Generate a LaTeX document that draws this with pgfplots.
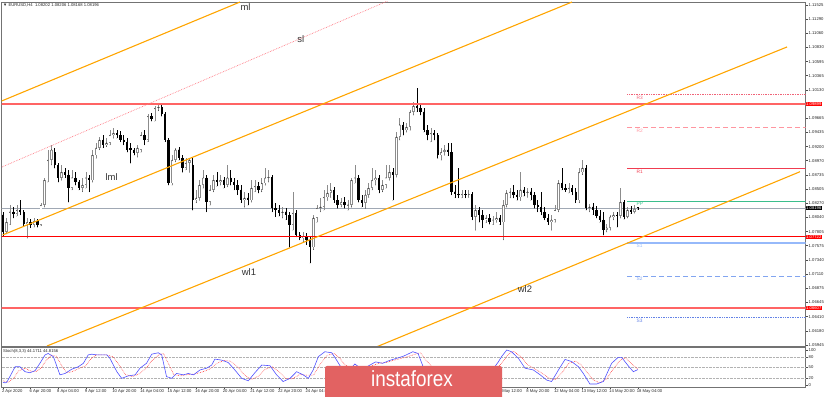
\documentclass[border=0pt]{standalone}
\usepackage{fontspec}
\setmainfont{Liberation Sans}
\usepackage{graphicx}
\usepackage{pgfplots}
\usepackage{pgfplotstable}
\pgfplotsset{compat=1.18}

\definecolor{orng}{RGB}{255,165,0}
\definecolor{lred}{RGB}{255,100,100}
\definecolor{pinkdot}{RGB}{255,120,130}
\definecolor{r3col}{RGB}{240,100,120}
\definecolor{r2col}{RGB}{255,150,160}
\definecolor{r1col}{RGB}{240,60,80}
\definecolor{ppcol}{RGB}{60,190,140}
\definecolor{s1col}{RGB}{150,185,250}
\definecolor{s2col}{RGB}{130,165,240}
\definecolor{s3col}{RGB}{100,130,230}
\definecolor{curcol}{RGB}{160,168,180}
\definecolor{bullcol}{RGB}{140,140,140}
\definecolor{logocol}{RGB}{226,98,98}
\definecolor{stblue}{RGB}{80,80,255}
\definecolor{stred}{RGB}{255,60,60}

\newcommand\tinyf{\fontsize{4.2}{4.6}\selectfont}
\newcommand\pivf{\fontsize{4.8}{5.2}\selectfont}
\newcommand\lblf{\fontsize{9.5}{10}\selectfont}

\pgfplotsset{invis/.style={only marks, mark=*, mark size=0.01pt, mark options={draw=none, fill=none}}}

\pgfplotstableread{
x o h l c
0 1.0808 1.0813 1.0773 1.0780
1 1.0780 1.0803 1.0777 1.0796
2 1.0796 1.0824 1.0792 1.0813
3 1.0813 1.0821 1.0803 1.0810
4 1.0810 1.0824 1.0806 1.0816
5 1.0816 1.0832 1.0808 1.0813
6 1.0813 1.0816 1.0790 1.0793
7 1.0793 1.0803 1.0770 1.0796
8 1.0796 1.0801 1.0787 1.0792
9 1.0792 1.0803 1.0788 1.0798
10 1.0798 1.0801 1.0788 1.0792
11 1.0792 1.0828 1.0790 1.0824
12 1.0824 1.0869 1.0821 1.0865
13 1.0865 1.0915 1.0862 1.0898
14 1.0898 1.0923 1.0890 1.0915
15 1.0911 1.0918 1.0885 1.0890
16 1.0890 1.0893 1.0862 1.0869
17 1.0869 1.0890 1.0865 1.0878
18 1.0878 1.0885 1.0869 1.0874
19 1.0874 1.0882 1.0829 1.0852
20 1.0852 1.0882 1.0849 1.0869
21 1.0869 1.0878 1.0857 1.0862
22 1.0862 1.0865 1.0849 1.0852
23 1.0852 1.0869 1.0846 1.0857
24 1.0857 1.0878 1.0852 1.0869
25 1.0869 1.0874 1.0846 1.0865
26 1.0865 1.0915 1.0862 1.0906
27 1.0906 1.0926 1.0901 1.0918
28 1.0918 1.0936 1.0915 1.0931
29 1.0931 1.0939 1.0918 1.0923
30 1.0923 1.0934 1.0920 1.0926
31 1.0926 1.0947 1.0923 1.0939
32 1.0939 1.0951 1.0934 1.0942
33 1.0942 1.0947 1.0934 1.0939
34 1.0939 1.0946 1.0928 1.0931
35 1.0931 1.0939 1.0923 1.0928
36 1.0928 1.0934 1.0911 1.0915
37 1.0918 1.0926 1.0893 1.0915
38 1.0915 1.0918 1.0906 1.0910
39 1.0910 1.0923 1.0903 1.0918
40 1.0915 1.0944 1.0911 1.0939
41 1.0939 1.0947 1.0923 1.0931
42 1.0931 1.0974 1.0928 1.0970
43 1.0970 1.0975 1.0962 1.0965
44 1.0965 1.0987 1.0962 1.0983
45 1.0983 1.0990 1.0979 1.0985
46 1.0985 1.0988 1.0970 1.0974
47 1.0974 1.0977 1.0928 1.0931
48 1.0931 1.0934 1.0857 1.0860
49 1.0860 1.0906 1.0857 1.0898
50 1.0898 1.0918 1.0895 1.0915
51 1.0915 1.0920 1.0898 1.0901
52 1.0901 1.0906 1.0878 1.0885
53 1.0885 1.0901 1.0882 1.0893
54 1.0893 1.0901 1.0878 1.0898
55 1.0890 1.0901 1.0816 1.0832
56 1.0832 1.0849 1.0828 1.0836
57 1.0836 1.0865 1.0832 1.0857
58 1.0857 1.0882 1.0852 1.0869
59 1.0869 1.0874 1.0813 1.0829
60 1.0829 1.0857 1.0824 1.0849
61 1.0849 1.0874 1.0846 1.0865
62 1.0865 1.0878 1.0855 1.0862
63 1.0862 1.0874 1.0857 1.0865
64 1.0865 1.0870 1.0852 1.0857
65 1.0857 1.0890 1.0854 1.0869
66 1.0869 1.0882 1.0857 1.0862
67 1.0862 1.0869 1.0849 1.0857
68 1.0857 1.0865 1.0841 1.0849
69 1.0849 1.0857 1.0828 1.0832
70 1.0832 1.0846 1.0821 1.0836
71 1.0836 1.0844 1.0824 1.0832
72 1.0832 1.0865 1.0829 1.0852
73 1.0852 1.0865 1.0846 1.0855
74 1.0855 1.0862 1.0844 1.0849
75 1.0849 1.0869 1.0846 1.0860
76 1.0860 1.0885 1.0857 1.0869
77 1.0869 1.0882 1.0862 1.0870
78 1.0870 1.0874 1.0813 1.0819
79 1.0819 1.0828 1.0805 1.0816
80 1.0816 1.0824 1.0806 1.0811
81 1.0811 1.0821 1.0803 1.0813
82 1.0813 1.0819 1.0800 1.0808
83 1.0808 1.0813 1.0755 1.0792
84 1.0792 1.0846 1.0783 1.0811
85 1.0811 1.0816 1.0772 1.0775
86 1.0775 1.0780 1.0767 1.0770
87 1.0770 1.0780 1.0764 1.0773
88 1.0773 1.0778 1.0759 1.0767
89 1.0767 1.0772 1.0729 1.0755
90 1.0755 1.0808 1.0751 1.0803
91 1.0803 1.0824 1.0796 1.0819
92 1.0819 1.0836 1.0813 1.0821
93 1.0821 1.0849 1.0816 1.0837
94 1.0837 1.0857 1.0832 1.0844
95 1.0844 1.0860 1.0837 1.0849
96 1.0849 1.0854 1.0828 1.0832
97 1.0832 1.0841 1.0819 1.0824
98 1.0824 1.0836 1.0821 1.0829
99 1.0829 1.0837 1.0819 1.0824
100 1.0824 1.0832 1.0816 1.0825
101 1.0825 1.0869 1.0821 1.0865
102 1.0865 1.0890 1.0860 1.0869
103 1.0869 1.0874 1.0829 1.0832
104 1.0832 1.0841 1.0821 1.0828
105 1.0828 1.0849 1.0819 1.0841
106 1.0841 1.0860 1.0837 1.0852
107 1.0852 1.0885 1.0849 1.0865
108 1.0865 1.0882 1.0857 1.0869
109 1.0869 1.0874 1.0844 1.0849
110 1.0849 1.0865 1.0846 1.0857
111 1.0857 1.0890 1.0852 1.0869
112 1.0869 1.0890 1.0865 1.0878
113 1.0878 1.0885 1.0832 1.0874
114 1.0874 1.0944 1.0870 1.0936
115 1.0936 1.0967 1.0931 1.0956
116 1.0956 1.0961 1.0939 1.0947
117 1.0947 1.0959 1.0944 1.0952
118 1.0952 1.0980 1.0947 1.0977
119 1.0977 1.0993 1.0972 1.0987
120 1.0987 1.1016 1.0977 1.0983
121 1.0983 1.0990 1.0972 1.0977
122 1.0977 1.0983 1.0944 1.0947
123 1.0947 1.0956 1.0931 1.0939
124 1.0939 1.0951 1.0928 1.0942
125 1.0942 1.0947 1.0931 1.0939
126 1.0939 1.0942 1.0901 1.0906
127 1.0906 1.0918 1.0898 1.0911
128 1.0911 1.0923 1.0906 1.0915
129 1.0915 1.0926 1.0905 1.0911
130 1.0911 1.0926 1.0841 1.0846
131 1.0846 1.0857 1.0836 1.0842
132 1.0842 1.0885 1.0836 1.0841
133 1.0841 1.0849 1.0836 1.0842
134 1.0842 1.0849 1.0836 1.0841
135 1.0841 1.0849 1.0837 1.0842
136 1.0842 1.0846 1.0800 1.0805
137 1.0805 1.0824 1.0783 1.0816
138 1.0816 1.0821 1.0796 1.0808
139 1.0808 1.0816 1.0787 1.0800
140 1.0800 1.0808 1.0795 1.0803
141 1.0803 1.0810 1.0793 1.0796
142 1.0796 1.0806 1.0792 1.0800
143 1.0800 1.0813 1.0796 1.0803
144 1.0803 1.0808 1.0792 1.0796
145 1.0796 1.0832 1.0767 1.0824
146 1.0824 1.0849 1.0821 1.0844
147 1.0844 1.0852 1.0836 1.0846
148 1.0846 1.0857 1.0836 1.0841
149 1.0841 1.0849 1.0832 1.0837
150 1.0837 1.0878 1.0832 1.0849
151 1.0849 1.0854 1.0839 1.0844
152 1.0844 1.0852 1.0837 1.0846
153 1.0846 1.0852 1.0832 1.0841
154 1.0841 1.0846 1.0819 1.0824
155 1.0824 1.0832 1.0813 1.0821
156 1.0821 1.0846 1.0808 1.0813
157 1.0813 1.0821 1.0800 1.0803
158 1.0803 1.0810 1.0792 1.0796
159 1.0796 1.0808 1.0783 1.0800
160 1.0800 1.0824 1.0796 1.0816
161 1.0816 1.0865 1.0813 1.0860
162 1.0860 1.0885 1.0849 1.0852
163 1.0852 1.0859 1.0846 1.0849
164 1.0849 1.0860 1.0844 1.0852
165 1.0852 1.0857 1.0841 1.0846
166 1.0846 1.0852 1.0828 1.0832
167 1.0832 1.0885 1.0828 1.0878
168 1.0878 1.0898 1.0874 1.0885
169 1.0885 1.0890 1.0816 1.0819
170 1.0819 1.0826 1.0813 1.0821
171 1.0821 1.0828 1.0808 1.0816
172 1.0816 1.0823 1.0803 1.0806
173 1.0806 1.0816 1.0796 1.0800
174 1.0800 1.0813 1.0775 1.0783
175 1.0783 1.0793 1.0780 1.0787
176 1.0787 1.0808 1.0783 1.0805
177 1.0805 1.0813 1.0800 1.0808
178 1.0808 1.0813 1.0788 1.0806
179 1.0806 1.0852 1.0803 1.0829
180 1.0829 1.0832 1.0801 1.0805
181 1.0805 1.0821 1.0803 1.0816
182 1.0816 1.0823 1.0810 1.0813
183 1.0813 1.0824 1.0811 1.0818
184 1.08202 1.08206 1.08168 1.08196
}\candles

\begin{document}
\begin{tikzpicture}
% ---------------- main price panel ----------------
\begin{axis}[
  at={(1.5bp,51bp)}, anchor=south west,
  width=804bp, height=344bp, scale only axis,
  xmin=-0.435, xmax=232.6, ymin=1.05929, ymax=1.11574,
  clip mode=individual,
  axis line style={black!55, line width=0.7bp},
  xtick=\empty,
  ytick={1.11525,1.11290,1.11060,1.10830,1.10595,1.10365,1.10130,1.09900,1.09665,1.09435,1.09200,1.08970,1.08735,1.08505,1.08270,1.08040,1.07805,1.07575,1.07340,1.07110,1.06875,1.06645,1.06410,1.06180,1.05945},
  yticklabels={1.11525,1.11290,1.11060,1.10830,1.10595,1.10365,1.10130,,1.09665,1.09435,1.09200,1.08970,1.08735,1.08505,1.08270,1.08040,1.07805,1.07575,1.07340,1.07110,1.06875,1.06645,1.06410,1.06180,1.05945},
  ytick pos=right, yticklabel pos=right,
  tick align=outside, major tick length=2bp,
  tick style={black!70, line width=0.4bp},
  yticklabel style={font=\tinyf, anchor=west, inner sep=0.4bp, xshift=0.6bp, text=black!85},
]
% current price line
\addplot[curcol, line width=0.6bp] coordinates {(-1,1.08196) (234,1.08196)};
% wicks
\addplot[invis, restrict expr to domain={\thisrow{c}-\thisrow{o}}{0:1},
  error bars/.cd, y dir=plus, y explicit, error mark=none,
  error bar style={draw=bullcol, line width=0.6bp}]
  table[x=x, y=l, y error plus expr=\thisrow{h}-\thisrow{l}] {\candles};
\addplot[invis, restrict expr to domain={\thisrow{c}-\thisrow{o}}{-1:-0.00000001},
  error bars/.cd, y dir=plus, y explicit, error mark=none,
  error bar style={draw=black, line width=0.6bp}]
  table[x=x, y=l, y error plus expr=\thisrow{h}-\thisrow{l}] {\candles};
% bodies
\addplot[invis, restrict expr to domain={\thisrow{c}-\thisrow{o}}{-1:-0.00000001},
  error bars/.cd, y dir=minus, y explicit, error mark=none,
  error bar style={draw=black, line width=2.4bp}]
  table[x=x, y=o, y error minus expr={max(\thisrow{o}-\thisrow{c},0.00008)}] {\candles};
\addplot[invis, restrict expr to domain={\thisrow{c}-\thisrow{o}}{0:1},
  error bars/.cd, y dir=minus, y explicit, error mark=none,
  error bar style={draw=bullcol, line width=2.5bp}]
  table[x=x, y=c, y error minus expr={max(\thisrow{c}-\thisrow{o},0.00008)}] {\candles};
\addplot[invis, restrict expr to domain={\thisrow{c}-\thisrow{o}}{0:1},
  error bars/.cd, y dir=minus, y explicit, error mark=none,
  error bar style={draw=white, line width=1.1bp}]
  table[x=x, y expr=\thisrow{c}-0.00011, y error minus expr={max(\thisrow{c}-\thisrow{o}-0.00022,0)}] {\candles};
% horizontal support / resistance
\addplot[lred, line width=1.7bp] coordinates {(-1,1.09899) (234,1.09899)};
\addplot[red, line width=1.2bp] coordinates {(-1,1.07722) (234,1.07722)};
\addplot[lred, line width=1.5bp] coordinates {(-1,1.06553) (234,1.06553)};
% pivot levels
\addplot[r3col, densely dotted, line width=0.7bp] coordinates {(180.9,1.10060) (234,1.10060)};
\addplot[r2col, dash pattern=on 5bp off 3bp, line width=1bp] coordinates {(180.9,1.09518) (234,1.09518)};
\addplot[r1col, line width=0.9bp] coordinates {(180.9,1.08845) (234,1.08845)};
\addplot[ppcol, line width=1.1bp] coordinates {(180.9,1.08297) (234,1.08297)};
\addplot[s1col, line width=1.8bp] coordinates {(180.9,1.07624) (234,1.07624)};
\addplot[s2col, dash pattern=on 5bp off 3bp, line width=0.9bp] coordinates {(180.9,1.07078) (234,1.07078)};
\addplot[s3col, densely dotted, line width=0.7bp] coordinates {(180.9,1.06400) (234,1.06400)};
% channel lines
\addplot[orng, line width=1.1bp] coordinates {(-0.87,1.09938) (68.70,1.11574)};
\addplot[orng, line width=1.1bp] coordinates {(-0.09,1.07751) (164.93,1.11574)};
\addplot[orng, line width=1.1bp] coordinates {(12.75,1.05929) (227.25,1.10836)};
\addplot[orng, line width=1.1bp] coordinates {(108.41,1.05918) (231.01,1.08789)};
\addplot[pinkdot, densely dotted, line width=0.7bp] coordinates {(-0.29,1.08867) (112.17,1.11607)};
% line names
\node[font=\lblf, text=black!80] at (axis cs:70.3,1.11492) {ml};
\node[font=\lblf, text=black!80] at (axis cs:86.3,1.10959) {sl};
\node[font=\lblf, text=black!80] at (axis cs:31.5,1.08694) {lml};
\node[font=\lblf, text=black!80] at (axis cs:71.3,1.07135) {wl1};
\node[font=\lblf, text=black!80] at (axis cs:151.3,1.06869) {wl2};
% pivot names
\node[font=\pivf, text=r3col, anchor=west, inner sep=0pt] at (axis cs:183.6,1.10004) {R3};
\node[font=\pivf, text=r2col, anchor=west, inner sep=0pt] at (axis cs:183.6,1.09462) {R2};
\node[font=\pivf, text=r1col, anchor=west, inner sep=0pt] at (axis cs:183.6,1.08789) {R1};
\node[font=\pivf, text=ppcol, anchor=west, inner sep=0pt] at (axis cs:183.6,1.08259) {PP};
\node[font=\pivf, text=s1col, anchor=west, inner sep=0pt] at (axis cs:183.6,1.07570) {S1};
\node[font=\pivf, text=s2col, anchor=west, inner sep=0pt] at (axis cs:183.6,1.07024) {S2};
\node[font=\pivf, text=s3col, anchor=west, inner sep=0pt] at (axis cs:183.6,1.06344) {S3};
% price boxes on the right scale
\node[font=\tinyf, fill=red, text=white, anchor=west, inner sep=0.5bp] at (axis cs:232.6,1.09899) {1.09899};
\node[font=\tinyf, fill=black, text=white, anchor=west, inner sep=0.5bp] at (axis cs:232.6,1.08196) {1.08196};
\node[font=\tinyf, fill=red, text=white, anchor=west, inner sep=0.5bp] at (axis cs:232.6,1.07722) {1.07722};
\node[font=\tinyf, fill=red, text=white, anchor=west, inner sep=0.5bp] at (axis cs:232.6,1.06553) {1.06607};
% header
\node[font=\tinyf, anchor=north west, inner sep=0pt, text=black!85] at ([xshift=1.5bp,yshift=-1.5bp]rel axis cs:0,1) {▼ EURUSD,H4\ \ 1.08202 1.08206 1.08168 1.08196};
\end{axis}

% ---------------- stochastic panel ----------------
\begin{axis}[
  at={(1.5bp,10bp)}, anchor=south west,
  width=804bp, height=39.5bp, scale only axis,
  xmin=-0.435, xmax=232.6, ymin=-5.7, ymax=107.1,
  clip mode=individual,
  axis line style={black!55, line width=0.7bp},
  xtick={0,8,...,184},
  xticklabels={2 Apr 2020,6 Apr 20:00,8 Apr 04:00,9 Apr 12:00,10 Apr 20:00,14 Apr 04:00,15 Apr 12:00,16 Apr 20:00,20 Apr 04:00,21 Apr 12:00,22 Apr 20:00,24 Apr 04:00,,,,,,,7 May 12:00,8 May 20:00,12 May 04:00,13 May 12:00,14 May 20:00,18 May 04:00},
  xtick pos=bottom,
  xticklabel style={font=\tinyf, anchor=north west, inner sep=0.3bp, xshift=-1.5bp, text=black!85},
  ytick={0,100}, yticklabels={0,100},
  extra y ticks={20,50,80}, extra y tick labels={20,50,80},
  extra y tick style={grid=major},
  grid style={black!30, densely dotted, line width=0.4bp},
  ytick pos=right, yticklabel pos=right,
  tick align=outside, major tick length=2bp,
  tick style={black!70, line width=0.4bp},
  yticklabel style={font=\tinyf, anchor=west, inner sep=0.4bp, xshift=0.6bp, text=black!85},
]
\addplot[stred, densely dotted, line width=0.6bp] coordinates {
(0,12) (1.5,8) (3,18) (4.5,40) (6.4,48) (8,40) (9.5,38) (11,48) (12.5,70) (14,85) (15.5,82) (17,55) (18.5,35) (20,38) (22,47) (24,55) (25.5,75) (27,86) (30,86) (32,80) (34,52) (35.5,30) (37.5,24) (39.5,32) (41.5,48) (43,68) (45,85) (46.5,90) (48,60) (49.5,30) (51.5,26) (53.5,30) (55.5,31) (58,38) (60,46) (62,62) (64,70) (66,68) (68,52) (70,28) (72,16) (74,25) (76,45) (78,52) (80,38) (82,18) (84,18) (86,30) (88,28) (90,28) (92,60) (94,85) (96,90) (97.5,78) (99,58) (101,48) (103,52) (105,50) (107,55) (109,62) (111,64) (113,70) (115,75) (117,80) (119.5,88) (121,92) (122.5,72) (125,45) (127,28) (129,20) (131,18) (133,18) (135,18) (137,15) (139,22) (141,32) (143,45) (145,68) (146.5,88) (148,96) (150,82) (152,58) (154.5,44) (156.5,32) (158.5,18) (160,15) (162,35) (164,62) (166,68) (167.5,58) (169,40) (171,15) (173,6) (175,18) (177,48) (179,72) (180.5,78) (182,62) (184,45)
};
\addplot[stblue, line width=0.6bp] coordinates {
(0,8) (0.6,6) (1.1,8) (2,24) (3.5,52) (4.9,52) (6.4,38) (7.8,35) (9.3,41) (10.7,62) (12.2,86) (13.1,90) (14.6,81) (16.5,29) (18,33) (19.9,45) (21.8,52) (23.3,62) (24.7,86) (25.7,88) (27.2,86) (30.1,86) (31,76) (33,38) (34.4,19) (36.3,26) (38.3,29) (39.7,48) (41.6,62) (43.1,88) (45,92) (46,86) (47.4,24) (48.9,19) (50.3,33) (52.3,29) (53.7,33) (55.2,29) (57.1,43) (59,48) (60.5,57) (61.4,74) (63.4,71) (65.3,64) (67.2,43) (69.2,19) (71.1,12) (73,35) (75,57) (77.4,55) (79.3,29) (81.2,10) (83.2,19) (85.1,38) (87,29) (88.5,19) (89.9,43) (91.4,81) (93.3,95) (95.3,92) (96.7,71) (98,50) (100,40) (102,60) (104,45) (106,55) (108,66) (110,62) (112,70) (114,76) (116,82) (118.8,95) (120.3,90) (121.7,54) (124,35) (126,20) (128,25) (130,10) (132,20) (134,25) (136,15) (138,30) (140,35) (142,45) (143.5,65) (144.5,81) (146,100) (147.4,95) (149.4,76) (151.3,48) (153.7,43) (155.7,29) (157.6,14) (159,10) (161,43) (162.9,73) (164.8,67) (166.8,52) (168.2,33) (170.1,3) (172.1,3) (174,10) (176.4,62) (178.3,79) (179.3,79) (181.2,55) (182.7,38) (184,44)
};
\node[font=\tinyf, anchor=north west, inner sep=0pt, text=black!85] at ([xshift=1.5bp,yshift=-1.5bp]rel axis cs:0,1) {Stoch(8,3,3) 44.1711 44.8156};
\end{axis}

% ---------------- watermark ----------------
\fill[logocol, rounded corners=2bp] (325bp,-3bp) rectangle (502bp,31bp);
\node[anchor=base, text=white, inner sep=0pt, font=\fontsize{22}{24}\selectfont] at (412bp,10.3bp) {\scalebox{0.86}[1]{instaforex}};

\pgfresetboundingbox
\path[use as bounding box] (0,0) rectangle (825bp,397bp);
\end{tikzpicture}
\end{document}
